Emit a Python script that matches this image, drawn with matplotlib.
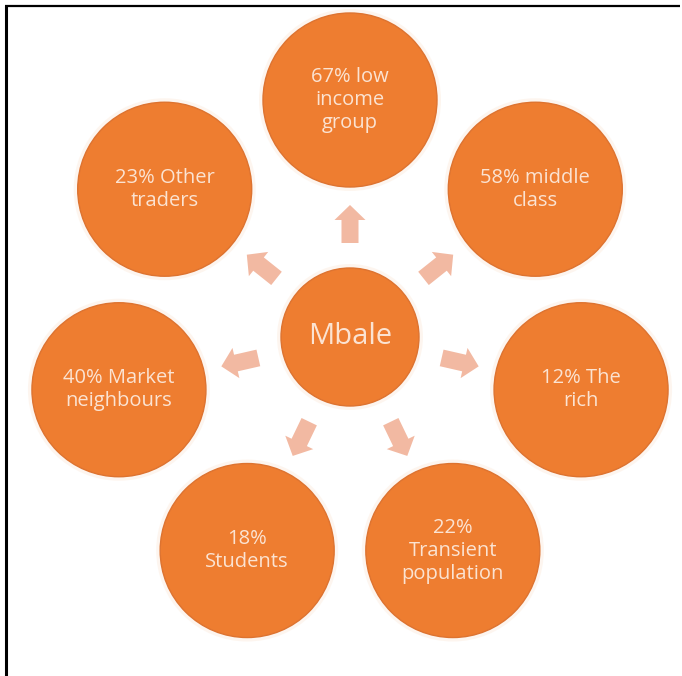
import numpy as np
import matplotlib
matplotlib.use("Agg")
import matplotlib.pyplot as plt
from matplotlib.patches import Circle, FancyArrow

center_label = "Mbale"
outer_labels = [
    "67% low\nincome\ngroup",
    "58% middle\nclass",
    "12% The\nrich",
    "22%\nTransient\npopulation",
    "18%\nStudents",
    "40% Market\nneighbours",
    "23% Other\ntraders",
]

W, H = 682, 676
fig = plt.figure(figsize=(W / 100, H / 100), dpi=100)
ax = fig.add_axes([0, 0, 1, 1])
ax.set_xlim(0, W)
ax.set_ylim(H, 0)
ax.set_aspect("equal")
ax.axis("off")

orange = "#EE7D30"
edge = "#DD7330"
txt_col = "#FBE3D2"
arrow_col = "#F2B9A2"
glow = "#FCEBDC"

cx, cy = 350, 337
ring = 237
r_out = 87
r_in = 69
n = len(outer_labels)

# centre
ax.add_patch(Circle((cx, cy), r_in + 4, color=glow, alpha=0.45, lw=0))
ax.add_patch(Circle((cx, cy), r_in, facecolor=orange, edgecolor=edge, lw=1))
ax.text(cx, cy, center_label, ha="center", va="center", color=txt_col,
        fontsize=21, family="Open Sans")

for i, lab in enumerate(outer_labels):
    a = np.deg2rad(i * 360 / n)
    dx, dy = np.sin(a), -np.cos(a)
    ox, oy = cx + ring * dx, cy + ring * dy
    ax.add_patch(Circle((ox, oy), r_out + 4, color=glow, alpha=0.45, lw=0))
    ax.add_patch(Circle((ox, oy), r_out, facecolor=orange, edgecolor=edge, lw=1))
    ax.text(ox, oy, lab, ha="center", va="center", color=txt_col,
            fontsize=14.5, family="Open Sans", linespacing=1.2)
    s0, s1 = 94, 132
    ax.add_patch(FancyArrow(cx + s0 * dx, cy + s0 * dy, (s1 - s0) * dx, (s1 - s0) * dy,
                            width=17, head_width=31, head_length=15,
                            length_includes_head=True, color=arrow_col, lw=0))

# frame lines
ax.plot([5, 680], [6, 6], color="black", lw=1.6, solid_capstyle="butt")
ax.plot([6, 6], [5, H], color="black", lw=2.2, solid_capstyle="butt")

fig.savefig("out.png", dpi=100)
